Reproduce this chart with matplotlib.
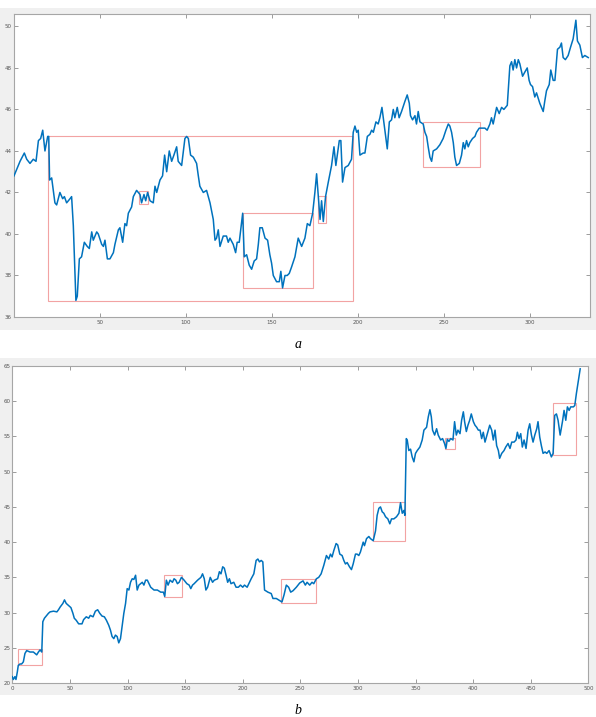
import matplotlib
matplotlib.use('Agg')
import matplotlib.pyplot as plt
from matplotlib.patches import Rectangle

# ---- panel a: series ----
a_x = [0, 2, 3.5, 6, 7.4, 9.3, 11.2, 12.8, 14.2, 15.5, 16.7, 18, 19.6, 20.2, 20.7,
       21.9, 23.8, 24.8, 26.7, 28.3, 29.3, 30.6, 32.6, 33.5, 34.5, 36, 36.8, 38, 39.3,
       40.9, 42.6, 43.8, 45.2, 46.1, 48.1, 49, 51, 52, 52.9, 54.3, 55.8, 57.8, 58.7,
       60.7, 61.6, 63.2, 64.5, 65.5, 66.5, 68.4, 69.4, 71.3, 73.3, 74.2, 75.6, 76.6,
       77.7, 79.1, 81, 82, 83, 84.9, 86.4, 87.6, 88.8, 90.3, 91.7, 93, 94.6, 95.5,
       97.5, 99.4, 100.4, 101.4, 102.7, 104.3, 106.2, 107.2, 108.1, 110.1, 112, 114,
       115.9, 116.9, 117.8, 118.8, 119.8, 121.7, 123.6, 124.6, 125.6, 127.5, 128.9,
       129.8, 131, 133, 133.9, 135.3, 136.8, 138.2, 139.7, 141.1, 142.1, 143, 144.4,
       146, 147.5, 148.8, 149.8, 150.8, 152.7, 154.3, 155.2, 156.2, 157.6, 158.9,
       160.1, 161.4, 163.4, 165.3, 167.3, 169.2, 170.6, 172.1, 173.7, 175, 176, 177,
       178, 178.9, 179.9, 181.2, 182.8, 184.7, 186.1, 187.2, 189.2, 190.1, 191.1,
       192.5, 194.4, 196.3, 197.3, 198.3, 199.3, 200.2, 201.2, 203.1, 204.1, 205.5,
       207, 208, 209, 210.5, 211.8, 212.8, 214, 215.1, 217.1, 218.3, 219.6, 220.6,
       221.5, 222.9, 224, 225.4, 227.4, 228.7, 229.9, 230.6, 231.8, 233.2, 234.1,
       235.1, 236.1, 238, 239, 240, 240.9, 241.9, 242.9, 243.8, 245.8, 247.7, 249.6,
       251.2, 252.6, 253.5, 254.5, 255.5, 256.4, 257.4, 259, 260.3, 261.3, 262.2,
       263.2, 264.2, 265.1, 266.7, 268.1, 269, 270.6, 271.9, 273.9, 275.2, 276.8,
       277.7, 278.7, 280.7, 282.2, 283.6, 284.9, 286.9, 288.4, 289.4, 290.3, 291.3,
       292.3, 293.3, 294.2, 295.8, 297.1, 298.5, 299.6, 300.4, 301.6, 302.9, 303.9,
       305.8, 307.8, 308.7, 309.7, 311.3, 312.2, 313.6, 314.6, 316.1, 317.5, 318.4,
       319.4, 320.7, 322.3, 323.7, 325.2, 326.8, 327.7, 329.1, 330.6, 332, 334]
a_y = [42.8, 43.2, 43.5, 43.9, 43.6, 43.4, 43.6, 43.5, 44.5, 44.6, 45.0, 44.0, 44.7, 44.7, 42.6,
       42.7, 41.5, 41.4, 42.0, 41.7, 41.8, 41.5, 41.7, 41.8, 40.4, 36.8, 37.0, 38.8, 38.9,
       39.6, 39.4, 39.3, 40.1, 39.7, 40.1, 40.0, 39.5, 39.4, 39.7, 38.8, 38.8, 39.1, 39.5,
       40.2, 40.3, 39.6, 40.5, 40.4, 41.0, 41.3, 41.8, 42.1, 41.9, 41.5, 41.9, 41.6,
       42.0, 41.6, 41.5, 42.3, 42.0, 42.6, 42.8, 43.8, 43.0, 44.0, 43.5, 43.8, 44.2, 43.5,
       43.3, 44.6, 44.7, 44.6, 43.8, 43.7, 43.4, 42.8, 42.3, 42.0, 42.1, 41.5,
       40.7, 39.7, 39.8, 40.2, 39.4, 39.9, 39.9, 39.6, 39.8, 39.5, 39.1,
       39.6, 39.6, 41.0, 38.9, 39.0, 38.5, 38.3, 38.7, 38.8, 39.5, 40.3, 40.3,
       39.8, 39.7, 39.0, 38.6, 38.0, 37.7, 37.7, 38.2, 37.4, 38.0, 38.0,
       38.1, 38.4, 38.9, 39.8, 39.4, 39.8, 40.5, 40.4, 41.0, 42.0, 42.9, 41.8,
       40.7, 41.6, 40.6, 41.8, 42.5, 43.3, 44.2, 43.3, 44.5, 44.5, 42.5,
       43.2, 43.3, 43.6, 44.9, 45.2, 44.9, 45.0, 43.8, 43.9, 43.9, 44.7,
       44.8, 45.0, 44.9, 45.4, 45.3, 45.6, 46.1, 45.4, 44.1, 45.4, 45.5, 46.0,
       45.6, 46.1, 45.6, 45.9, 46.4, 46.7, 46.3, 45.7, 45.5, 45.7, 45.3,
       45.9, 45.4, 45.3, 44.9, 44.7, 44.2, 43.7, 43.5, 44.0, 44.1, 44.3, 44.6,
       45.0, 45.3, 45.2, 44.9, 44.4, 43.7, 43.3, 43.4, 43.8, 44.4, 44.1,
       44.5, 44.2, 44.4, 44.6, 44.7, 44.9, 45.1, 45.1, 45.1, 45.0, 45.3,
       45.6, 45.3, 46.1, 45.8, 46.1, 46.0, 46.2, 48.1, 48.3, 47.9, 48.4,
       48.0, 48.4, 48.2, 47.6, 47.8, 48.0, 47.4, 47.2, 47.1, 46.6, 46.8,
       46.3, 45.9, 46.4, 46.9, 47.2, 47.9, 47.4, 47.4, 48.9, 49.0, 49.2,
       48.5, 48.4, 48.6, 49.0, 49.4, 50.3, 49.3, 49.1, 48.5, 48.6, 48.5]
# boxes: (x0, x1, y0, y1)
a_boxes = [(20, 197, 36.75, 44.73), (133, 174, 37.4, 41.02), (72.9, 78.1, 41.45, 42.06),
           (177, 181.2, 40.54, 41.85), (238, 271.2, 43.21, 45.41)]

# ---- panel b ----
b_x = [0, 0.9, 2.3, 3.2, 4.4, 5.2, 6.7, 8.1, 9.6, 11, 12.5, 15.4, 18.3, 19.8, 21.2, 22.7,
       24.1, 25.6, 26.5, 27.9, 29.9, 31.4, 32.8, 35.8, 38.7, 40.1, 41.6, 43.9, 45.3, 46.8,
       48.8, 50.9, 52.6, 53.8, 55.5, 57.6, 60.5, 61.9, 64.2, 66.3, 67.7, 70.1, 72.1, 74.1,
       75.9, 77.9, 79.9, 81.7, 83.7, 85.2, 86.6, 88.1, 89.5, 91, 92.4, 93.9, 95.3, 96.8,
       98.3, 99.7, 101.2, 102.6, 104.1, 105.5, 107, 108.4, 109.9, 111.3, 112.8, 114.2,
       115.7, 117.2, 118.6, 120.1, 123, 125.9, 128.8, 131.1, 132.3, 133.7, 135.2, 136.9,
       139, 140.4, 141.9, 143.3, 144.8, 146.8, 149.1, 151.5, 153.5, 154.9, 156.4, 157.8,
       160.8, 163.7, 165.1, 166.6, 168, 169.5, 171.8, 173.8, 175.3, 178.2, 179.7, 181.1,
       182.6, 184, 185.5, 186.9, 188.4, 189.8, 192.2, 194.2, 196.2, 198, 200, 201.5,
       203.8, 205.8, 207.3, 209.6, 211.6, 213.1, 214.5, 216, 217.4, 218.9, 221.8, 224.7,
       226.2, 229.1, 232, 234, 235.8, 237.8, 239.8, 241.6, 243.6, 246.5, 249.4, 252.3,
       254.3, 255.8, 258.1, 260.1, 261.6, 263.9, 265.9, 268, 270.3, 272.6, 274.6, 276.1,
       277.5, 279, 281, 282.4, 284.2, 286.2, 287.7, 289.1, 290.6, 292.6, 294.3, 295.8,
       297.8, 299.2, 300.7, 302.1, 304.5, 305.6, 307.4, 309.4, 310.8, 313.2, 315.2,
       316.6, 318.1, 319.5, 321, 322.4, 323.9, 325.9, 327.6, 329.1, 331.1, 333.4, 335.5,
       336.9, 338.4, 339.8, 340.7, 341.9, 342.7, 344.1, 345.6, 347, 348.5, 349.9, 351.4,
       353.7, 355.7, 357.2, 359.5, 361, 362.4, 363.6, 364.7, 366.5, 368.2, 369.6, 371.7,
       373.4, 375.1, 376.3, 377.5, 378.9, 380.4, 382.4, 383.8, 385.3, 386.7, 388.5,
       389.9, 391.4, 392.5, 394, 395.4, 396.9, 398.3, 400.1, 401.5, 403, 404.4, 405.9,
       407.3, 408.7, 410.2, 412.3, 414.3, 416, 417.4, 418.9, 420.3, 421.8, 422.9, 424.7,
       426.7, 428.2, 430.2, 431.9, 433.4, 435.4, 437.1, 438.3, 439.7, 441.2, 442.6,
       444.1, 445.8, 447.6, 449, 450.5, 451.9, 453.4, 455.1, 456.2, 457.7, 459.1, 460.6,
       462.3, 463.8, 465.8, 467.8, 469.3, 470.7, 472.2, 473.6, 475.4, 477.4, 478.8,
       480.3, 481.7, 483.2, 484.6, 486.9, 488.1, 489.5, 491, 492.8]
b_y = [20.9, 20.5, 20.9, 20.5, 21.6, 22.5, 22.7, 22.7, 23.0, 24.2, 24.6, 24.4, 24.4, 24.2, 24.0, 24.4,
       24.7, 24.4, 28.7, 29.2, 29.6, 29.9, 30.1, 30.2, 30.1, 30.4, 30.8, 31.3, 31.8, 31.3,
       31.0, 30.7, 29.9, 29.2, 28.9, 28.4, 28.4, 29.0, 29.4, 29.2, 29.6, 29.4, 30.2, 30.4,
       29.9, 29.5, 29.4, 28.9, 28.2, 27.5, 26.6, 26.3, 26.8, 26.6, 25.7, 26.3, 28.0, 29.9,
       31.3, 33.4, 33.2, 34.3, 34.8, 34.7, 35.3, 33.2, 33.9, 34.1, 34.3, 33.9,
       34.6, 34.6, 34.1, 33.6, 33.2, 33.2, 32.9, 32.9, 32.3, 34.6, 33.9, 34.6,
       34.3, 34.8, 34.6, 34.1, 34.3, 35.0, 34.6, 34.1, 33.9, 33.4, 33.9, 34.1,
       34.6, 35.0, 35.5, 34.8, 33.2, 33.6, 35.0, 34.3, 34.6, 34.8, 35.8, 35.5,
       36.5, 36.3, 35.3, 34.3, 34.8, 34.1, 34.3, 33.6, 33.6, 33.9, 33.6, 33.9,
       33.6, 34.3, 34.8, 35.5, 37.4, 37.6, 37.2, 37.4, 37.2, 33.2, 32.9, 32.7,
       32.0, 32.0, 31.7, 31.5, 32.5, 33.9, 33.6, 32.9, 33.1, 33.6, 34.2, 34.5,
       33.9, 34.3, 33.9, 34.3, 34.1, 34.8, 35.0, 35.5, 36.7, 38.1, 37.6, 38.3,
       37.9, 38.8, 39.8, 39.6, 38.3, 38.1, 37.4, 36.9, 37.1, 36.5, 36.1, 36.9,
       38.3, 38.3, 38.1, 38.6, 40.0, 39.5, 40.5, 40.8, 40.5, 40.2, 41.6,
       43.8, 44.8, 45.0, 44.3, 44.1, 43.6, 43.3, 42.6, 43.3, 43.3, 43.6, 44.1,
       45.6, 44.1, 44.5, 43.8, 54.7, 54.5, 53.0, 53.2, 52.1, 51.4, 52.6, 53.0,
       53.5, 54.5, 55.9, 56.3, 57.8, 58.8, 57.8, 55.9, 55.2, 56.1, 55.2, 54.5,
       54.7, 54.0, 53.3, 54.6, 54.3, 54.7, 54.5, 57.1, 55.2, 55.9, 55.4,
       57.3, 58.5, 57.1, 55.7, 56.6, 57.3, 58.2, 57.1, 56.6, 56.3, 55.9, 55.9,
       54.7, 55.6, 54.2, 55.4, 56.6, 55.9, 54.5, 55.9, 53.7, 53.0, 51.9, 52.6,
       53.0, 53.5, 54.0, 53.3, 54.2, 54.2, 54.5, 55.6, 54.7, 55.4, 53.5,
       54.5, 53.3, 55.9, 56.8, 55.2, 54.2, 55.2, 56.1, 57.1, 54.9, 53.7, 52.6,
       52.8, 52.6, 53.0, 52.1, 52.6, 58.0, 58.2, 57.3, 55.2, 57.1, 58.7,
       57.3, 59.2, 58.7, 59.2, 59.2, 59.4, 61.1, 62.7, 64.6]
b_boxes = [(5.2, 25.9, 22.5, 24.8), (131.7, 147.4, 32.2, 35.3), (233.4, 263.6, 31.4, 34.7),
           (312.9, 341.0, 40.2, 45.7), (375.4, 384.1, 53.2, 54.8), (469.3, 489.0, 52.3, 59.7)]

LINE = '#0072BD'
BOX = '#f2a3a3'
PANEL_BG = '#f0f0f0'

fig = plt.figure(figsize=(5.96, 7.17), dpi=100)
fig.patch.set_facecolor('white')

# grey frames behind each axes, like a MATLAB figure window
fig.patches.append(Rectangle((0, 0.5397), 1, 0.449, transform=fig.transFigure,
                             facecolor=PANEL_BG, edgecolor='none', zorder=-5))
fig.patches.append(Rectangle((0, 0.0307), 1, 0.47, transform=fig.transFigure,
                             facecolor=PANEL_BG, edgecolor='none', zorder=-5))

ax1 = fig.add_axes([0.0235, 0.5579, 0.9664, 0.4226])
ax2 = fig.add_axes([0.0206, 0.0474, 0.9668, 0.4421])


def style(ax):
    ax.set_facecolor('white')
    for s in ax.spines.values():
        s.set_color('#a6a6a6')
        s.set_linewidth(0.8)
    ax.tick_params(direction='in', length=3, width=0.6, color='#8c8c8c',
                   labelsize=4, labelcolor='#555555', top=True, right=True)
    ax.tick_params(axis='y', pad=1.5)
    ax.tick_params(axis='x', pad=2)


for ax, xs, ys, boxes in [(ax1, a_x, a_y, a_boxes), (ax2, b_x, b_y, b_boxes)]:
    for x0, x1, y0, y1 in boxes:
        ax.add_patch(Rectangle((x0, y0), x1 - x0, y1 - y0, fill=False,
                               edgecolor=BOX, linewidth=0.8, zorder=2))
    ax.plot(xs, ys, color=LINE, linewidth=1.1, zorder=3)
    style(ax)

ax1.set_xlim(0, 335)
ax1.set_ylim(36, 50.6)
ax1.set_xticks([50, 100, 150, 200, 250, 300])
ax1.set_yticks([36, 38, 40, 42, 44, 46, 48, 50])

ax2.set_xlim(0, 500)
ax2.set_ylim(20, 65)
ax2.set_xticks(range(0, 501, 50))
ax2.set_yticks(range(20, 66, 5))

fig.text(0.5, 1 - 345 / 717, 'a', ha='center', va='center', fontsize=10,
         style='italic', family='Liberation Serif')
fig.text(0.5, 1 - 711 / 717, 'b', ha='center', va='center', fontsize=10,
         style='italic', family='Liberation Serif')

fig.savefig('out.png', dpi=100)
